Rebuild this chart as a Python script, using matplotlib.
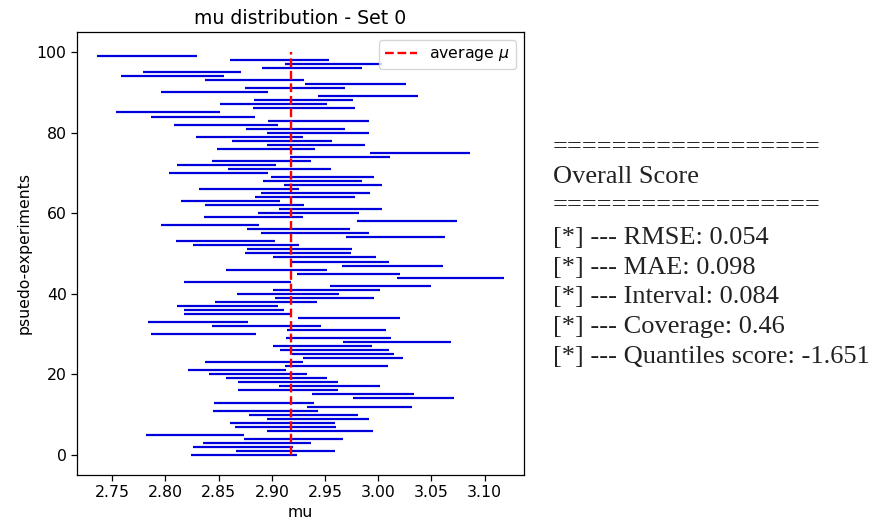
import numpy as np
import matplotlib
matplotlib.use("Agg")
import matplotlib.pyplot as plt

# interval bounds per pseudo-experiment, index 0 .. 99
LOWER = [
    2.824, 2.866, 2.826, 2.835, 2.874, 2.782, 2.895, 2.865, 2.861, 2.895,
    2.879, 2.845, 2.933, 2.846, 2.976, 2.938, 2.868, 2.907, 2.868, 2.857,
    2.841, 2.821, 2.912, 2.837, 2.929, 2.919, 2.908, 2.901, 2.967, 2.913,
    2.786, 2.914, 2.844, 2.784, 2.925, 2.817, 2.817, 2.811, 2.847, 2.903,
    2.867, 2.901, 2.955, 2.817, 3.018, 2.924, 2.857, 2.966, 2.917, 2.901,
    2.875, 2.877, 2.826, 2.810, 2.970, 2.890, 2.877, 2.796, 2.980, 2.836,
    2.887, 2.907, 2.837, 2.815, 2.884, 2.890, 2.832, 2.911, 2.892, 2.899,
    2.803, 2.859, 2.811, 2.844, 2.917, 2.992, 2.848, 2.895, 2.863, 2.829,
    2.895, 2.876, 2.808, 2.896, 2.786, 2.754, 2.882, 2.851, 2.883, 2.943,
    2.796, 2.875, 2.931, 2.837, 2.758, 2.779, 2.891, 2.912, 2.861, 2.736,
]
UPPER = [
    2.924, 2.959, 2.920, 2.937, 2.967, 2.874, 2.995, 2.960, 2.959, 2.991,
    2.981, 2.943, 3.032, 2.940, 3.071, 3.034, 2.962, 3.002, 2.962, 2.952,
    2.933, 2.913, 3.009, 2.929, 3.023, 3.015, 3.010, 2.994, 3.068, 3.012,
    2.885, 3.007, 2.946, 2.878, 3.020, 2.918, 2.911, 2.906, 2.942, 2.996,
    2.963, 3.002, 3.050, 2.918, 3.118, 3.020, 2.952, 3.061, 3.010, 2.998,
    2.974, 2.975, 2.926, 2.903, 3.063, 2.991, 2.973, 2.888, 3.074, 2.929,
    2.982, 3.004, 2.930, 2.908, 2.978, 2.992, 2.926, 3.004, 2.985, 2.996,
    2.896, 2.956, 2.904, 2.937, 3.011, 3.086, 2.941, 2.988, 2.957, 2.929,
    2.991, 2.969, 2.906, 2.991, 2.884, 2.851, 2.978, 2.952, 2.976, 3.037,
    2.896, 2.969, 3.026, 2.930, 2.855, 2.871, 2.985, 3.004, 2.954, 2.830,
]
MU_AVG = 2.918

SCORES = [
    ("RMSE", "0.054"),
    ("MAE", "0.098"),
    ("Interval", "0.084"),
    ("Coverage", "0.46"),
    ("Quantiles score", "-1.651"),
]

# original figure looks rendered ~1.13x larger than default
plt.rcParams.update({
    "font.size": 11.3,
    "axes.linewidth": 0.9,
    "xtick.major.size": 4.0,
    "ytick.major.size": 4.0,
    "xtick.major.width": 0.9,
    "ytick.major.width": 0.9,
})

experiments = np.arange(len(LOWER))

fig = plt.figure(figsize=(8.75, 5.25), dpi=100)
ax = fig.add_axes([0.088, 0.0952, 0.511, 0.844])

ax.hlines(experiments, LOWER, UPPER, color="#0000dd", linewidth=1.6)
ax.vlines(MU_AVG, 0, len(LOWER), color="red", linestyle="--",
          linewidth=1.7, label=r"average $\mu$", zorder=3)

ax.set_xticks(np.arange(2.75, 3.101, 0.05))
ax.set_title("mu distribution - Set 0", fontsize=13.6)
ax.set_xlabel("mu", labelpad=3)
ax.set_ylabel("psuedo-experiments")
ax.legend(loc="upper right")

# score summary on the right
serif = dict(family="Liberation Serif", fontsize=19, color="#222222",
             va="center", ha="left", transform=fig.transFigure)
x0 = 553 / 875
fig.text(x0, 1 - 147 / 525, "=" * 18, **serif)
fig.text(x0, 1 - 177 / 525, "Overall Score", **serif)
fig.text(x0, 1 - 205 / 525, "=" * 18, **serif)
for i, (name, val) in enumerate(SCORES):
    fig.text(x0, 1 - (238 + i * 29.7) / 525, f"[*] --- {name}: {val}", **serif)

fig.savefig("out.png", dpi=100)
